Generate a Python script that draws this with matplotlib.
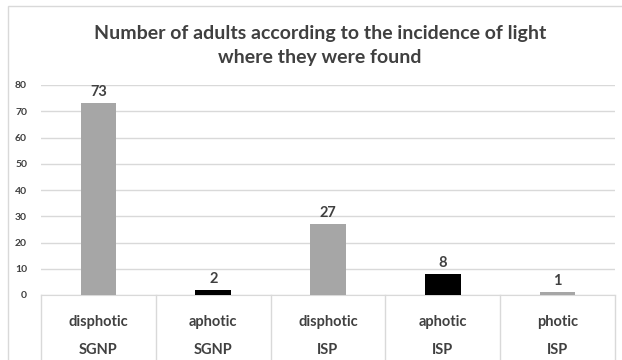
import matplotlib
matplotlib.use("Agg")
import matplotlib.pyplot as plt
from matplotlib.patches import Rectangle
from matplotlib.transforms import blended_transform_factory


LIGHT = ["disphotic", "aphotic", "disphotic", "aphotic", "photic"]
SITE = ["SGNP", "SGNP", "ISP", "ISP", "ISP"]
ADULTS = [73, 2, 27, 8, 1]
BAR_COLORS = ["#A6A6A6", "#000000", "#A6A6A6", "#000000", "#A6A6A6"]
TITLE = "Number of adults according to the incidence of light\nwhere they were found"

TEXT = "#404040"
GRID = "#D9D9D9"

plt.rcParams["font.family"] = ["Lato", "DejaVu Sans"]

fig = plt.figure(figsize=(6.22, 3.6), dpi=100)
ax = fig.add_axes([41 / 622, 65 / 360, 574 / 622, 210 / 360])

# outer chart frame
fig.patches.append(Rectangle((8 / 622, -0.1), 1.2, (360 - 6) / 360 + 0.1,
                             transform=fig.transFigure, fill=False,
                             edgecolor=GRID, linewidth=1))

x = list(range(len(ADULTS)))
bars = ax.bar(x, ADULTS, width=0.31, color=BAR_COLORS, zorder=3)
for bar, value in zip(bars, ADULTS):
    ax.text(bar.get_x() + bar.get_width() / 2, value + 1.5, str(value),
            ha="center", va="bottom", fontsize=10.5, fontweight="bold", color=TEXT)

ax.set_xlim(-0.5, len(ADULTS) - 0.5)
ax.set_ylim(0, 80)
ax.set_yticks(range(0, 81, 10))
ax.yaxis.grid(True, color=GRID, linewidth=1)
ax.set_axisbelow(True)
ax.tick_params(axis="y", length=0, pad=10, labelsize=7.5, labelcolor=TEXT)
for lab in ax.get_yticklabels():
    lab.set_fontweight("bold")
ax.set_xticks([])
for side in ["top", "right", "left"]:
    ax.spines[side].set_visible(False)
ax.spines["bottom"].set_color(GRID)

# grouped category labels under the axis
trans = blended_transform_factory(ax.transData, ax.transAxes)
for edge in [i - 0.5 for i in range(len(ADULTS) + 1)]:
    ax.plot([edge, edge], [0, -0.32], transform=trans, color=GRID,
            linewidth=1, clip_on=False)
for i in x:
    ax.text(i, -0.13, LIGHT[i], transform=trans, ha="center", va="center",
            fontsize=10.5, fontweight="bold", color=TEXT)
    ax.text(i, -0.263, SITE[i], transform=trans, ha="center", va="center",
            fontsize=10.5, fontweight="bold", color=TEXT)

fig.text(320 / 622, 1 - 45 / 360, TITLE, ha="center", va="center",
         fontsize=14, fontweight="bold", color=TEXT, linespacing=1.5)

fig.savefig("out.png", dpi=100)
